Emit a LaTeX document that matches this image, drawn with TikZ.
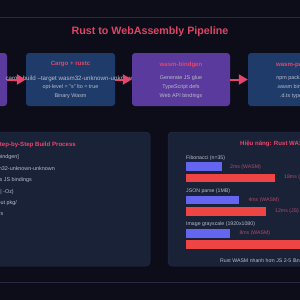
\documentclass[tikz,border=0pt]{standalone}
\usepackage{fontspec}
\setmainfont{Liberation Sans}
\usetikzlibrary{arrows.meta}
\definecolor{bg}{HTML}{0D0D1A}
\definecolor{panel}{HTML}{1A2238}
\definecolor{panelline}{HTML}{232C48}
\definecolor{boxblue}{HTML}{1F3B69}
\definecolor{boxpurple}{HTML}{5A3A9C}
\definecolor{pink}{HTML}{E8456B}
\definecolor{titlepink}{HTML}{DC4563}
\definecolor{txtgray}{HTML}{B8BDCC}
\definecolor{barblue}{HTML}{6466F0}
\definecolor{barred}{HTML}{EF4444}
\definecolor{dimpink}{HTML}{B24A68}
\definecolor{rule}{HTML}{262A40}
\begin{document}
\begin{tikzpicture}[x=1pt,y=-1pt,
  stagebox/.style={rounded corners=3pt, minimum height=53pt, inner sep=0pt, draw=none},
  boxtitle/.style={text=pink, font=\bfseries\fontsize{6.1}{7}\selectfont, inner sep=0pt},
  boxtxt/.style={text=txtgray, font=\fontsize{5.4}{6}\selectfont, inner sep=0pt},
  paneltitle/.style={text=pink, font=\bfseries\fontsize{6.1}{7}\selectfont, inner sep=0pt},
  paneltxt/.style={text=txtgray, font=\fontsize{5.4}{6}\selectfont, inner sep=0pt},
  barlbl/.style={text=txtgray, font=\fontsize{5.2}{6}\selectfont, inner sep=0pt, anchor=west},
  vallbl/.style={text=dimpink, font=\fontsize{5.2}{6}\selectfont, inner sep=0pt, anchor=west},
  arr/.style={draw=pink, line width=2pt, -{Triangle[length=9pt,width=10pt]}},
  panelbox/.style={fill=panel, draw=panelline, line width=0.5pt, rounded corners=4pt}
]
\useasboundingbox (0,0) rectangle (300,300);
\clip (0,0) rectangle (300,300);
\fill[bg] (0,0) rectangle (300,300);
\draw[rule, line width=0.6pt] (0,17) -- (300,17);
\draw[rule, line width=0.6pt] (0,282) -- (300,282);

\node[text=titlepink, font=\bfseries\fontsize{10.7}{12}\selectfont, inner sep=0pt] (title) at (150,32) {Rust to WebAssembly Pipeline};

% stage boxes
\node[stagebox, fill=boxpurple, minimum width=94pt] (b1) at (-40,79.5) {};
\node[stagebox, fill=boxblue, minimum width=89pt] (b2) at (70.5,79.5) {};
\node[boxtitle] (b2t) at (70.5,64.5) {Cargo + rustc};
\node[boxtxt, font=\fontsize{6.2}{7}\selectfont] (b2a) at (70.5,78.5) {cargo build --target wasm32-unknown-unknown};
\node[boxtxt] (b2b) at (70.5,87.3) {opt-level = "s" lto = true};
\node[boxtxt] (b2c) at (70.5,96) {Binary Wasm};

\node[stagebox, fill=boxpurple, minimum width=98pt] (b3) at (181,79.5) {};
\node[boxtitle] (b3t) at (181,64.5) {wasm-bindgen};
\node[boxtxt] (b3a) at (181,78.5) {Generate JS glue};
\node[boxtxt] (b3b) at (181,87.3) {TypeScript defs};
\node[boxtxt] (b3c) at (181,96) {Web API bindings};

\node[stagebox, fill=boxblue, minimum width=89pt] (b4) at (292.5,79.5) {};
\node[boxtitle] (b4t) at (292.5,64.5) {wasm-pack};
\node[boxtxt] (b4a) at (292.5,78.5) {npm package};
\node[boxtxt] (b4b) at (292.5,87.3) {.wasm binary};
\node[boxtxt] (b4c) at (292.5,96) {.d.ts types};

\draw[arr] (b1.east) -- (b2.west);
\draw[arr] (b2.east) -- (b3.west);
\draw[arr] (b3.east) -- (b4.west);

% left panel
\draw[panelbox] (-20,132) rectangle (150,266);
\node[paneltitle, anchor=east] (lt) at (76,145) {Step-by-Step Build Process};
\node[paneltxt, anchor=east] (l1) at (19,157) {wasm-bindgen]};
\node[paneltxt, anchor=east] (l2) at (55,169) {wasm32-unknown-unknown};
\node[paneltxt, anchor=east] (l3) at (32,180.5) {generates JS bindings};
\node[paneltxt, anchor=east] (l4) at (14,192) {(-O3 | -Oz)};
\node[paneltxt, anchor=east] (l5) at (17,203) {out pkg/};
\node[paneltxt, anchor=east] (l6) at (3.5,214) {bundlers};

% right panel
\draw[panelbox] (168,132) rectangle (320,266);
\node[paneltitle, anchor=west] (rt) at (240,144) {Hiệu năng: Rust WASM vs JavaScript};

\node[barlbl] (f) at (186,158) {Fibonacci (n=35)};
\fill[barblue] (186,162.3) rectangle (221.7,171);
\node[vallbl] (fw) at (230,167) {2ms (WASM)};
\fill[barred] (186,173.7) rectangle (275,182.3);
\node[vallbl] (fj) at (284,177.5) {18ms (JS)};

\node[barlbl] (j) at (186,191.5) {JSON parse (1MB)};
\fill[barblue] (186,195.7) rectangle (239.3,204.3);
\node[vallbl] (jw) at (248.3,200) {4ms (WASM)};
\fill[barred] (186,207) rectangle (266,215.7);
\node[vallbl] (jj) at (275,211) {12ms (JS)};

\node[barlbl] (g) at (186,224.5) {Image grayscale (1920x1080)};
\fill[barblue] (186,229) rectangle (230.3,237.7);
\node[vallbl] (gw) at (239.3,233.3) {8ms (WASM)};
\fill[barred] (186,240.3) rectangle (330,249);

\node[barlbl, text=txtgray] (note) at (220,260.5) {Rust WASM nhanh hơn JS 2-5 lần};
\end{tikzpicture}
\end{document}
